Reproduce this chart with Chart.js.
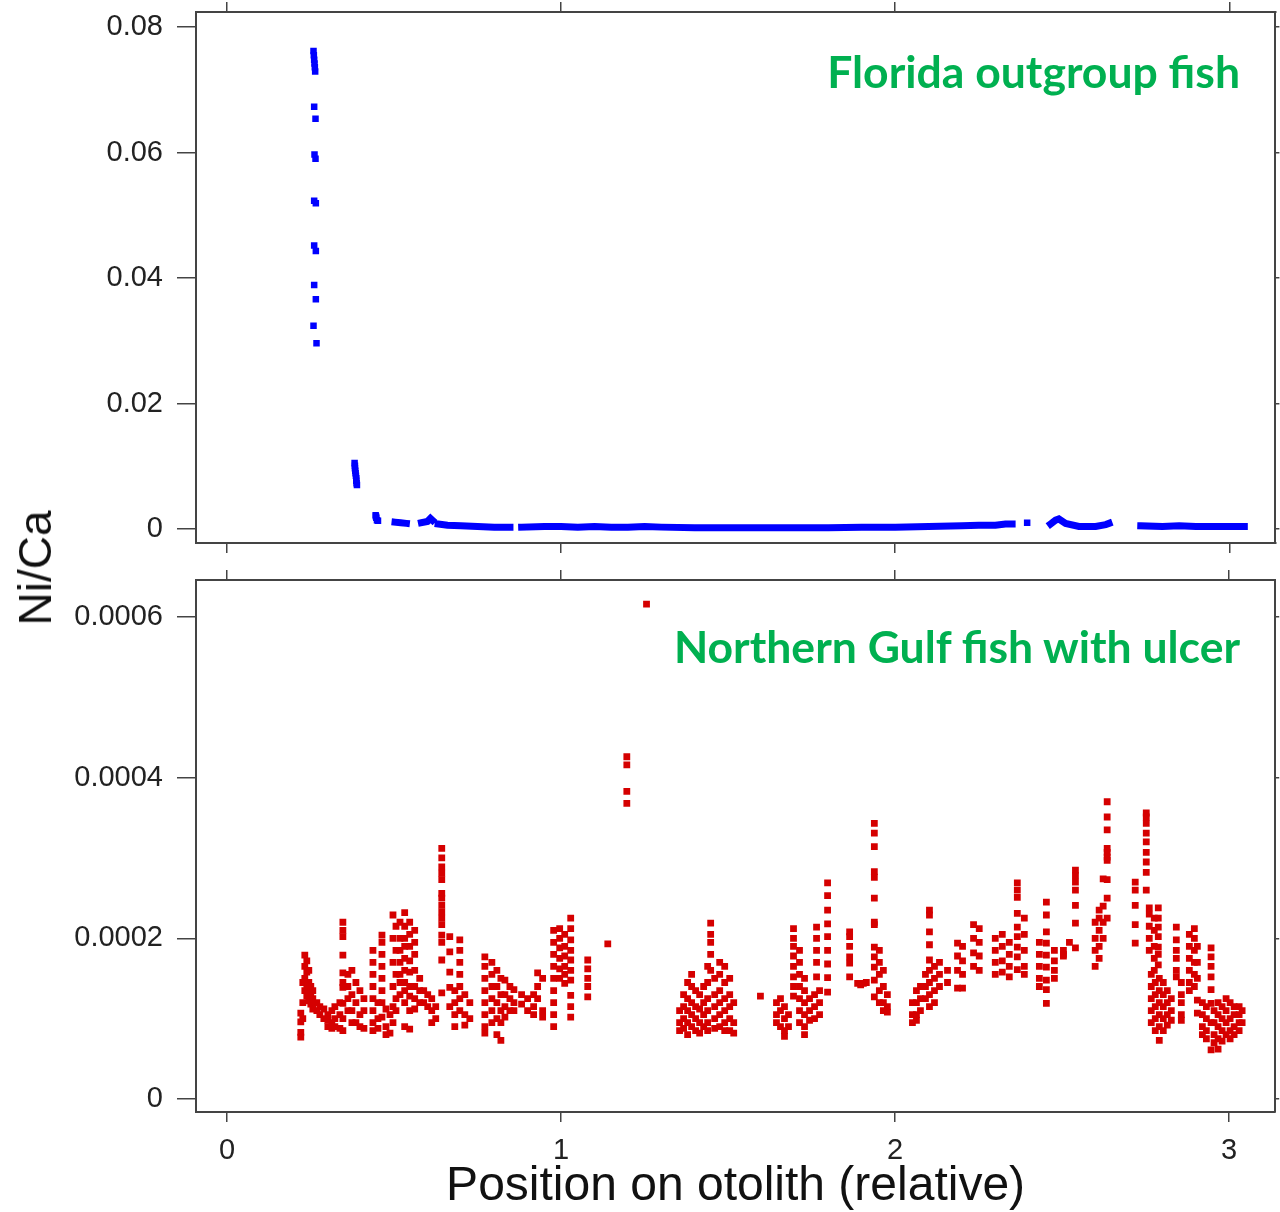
<!DOCTYPE html>
<html lang="en">
<head>
<meta charset="UTF-8">
<title>Ni/Ca along otolith</title>
<script src="https://cdn.jsdelivr.net/npm/chart.js"></script>
<style>
  body { margin: 0; background: #fff; width: 1280px; height: 1212px; position: relative; overflow: hidden; font-family: "Liberation Sans", Arial, sans-serif; }
  canvas { position: absolute; left: 0; }
  #topCanvas { top: 0; }
  #bottomCanvas { top: 560px; }
  .panel-label { position: absolute; right: 40px; color: #00b050; font-family: Lato, sans-serif; font-weight: bold; font-size: 44.5px; line-height: 1; white-space: nowrap; }
  #yTitle { position: absolute; left: 35px; top: 568px; transform: translate(-50%, -50%) rotate(-90deg); font-size: 46px; color: #111; white-space: nowrap; }
</style>
</head>
<body>
<canvas id="topCanvas" width="1280" height="560"></canvas>
<canvas id="bottomCanvas" width="1280" height="656"></canvas>
<div class="panel-label" style="top:49px">Florida outgroup fish</div>
<div class="panel-label" style="top:624px">Northern Gulf fish with ulcer</div>
<div id="yTitle">Ni/Ca</div>

<script>
// axis ticks
const xTicks = [0, 1, 2, 3];
const floridaTicks = [0, 0.02, 0.04, 0.06, 0.08];
const gulfTicks = [0, 0.0002, 0.0004, 0.0006];

// Florida fish: early high values near the core
const floridaSpike = [
    [0.259, 0.0762], [0.260, 0.0755], [0.261, 0.0748], [0.262, 0.0742], [0.263, 0.0736], [0.264, 0.0729],
    [0.261, 0.0673], [0.265, 0.0654], [0.262, 0.0597], [0.265, 0.0590], [0.261, 0.0523], [0.266, 0.0519],
    [0.261, 0.0452], [0.266, 0.0443], [0.261, 0.0389], [0.266, 0.0366], [0.259, 0.0324], [0.268, 0.0296],
    [0.382, 0.0105], [0.383, 0.0101], [0.383, 0.0097], [0.384, 0.0093], [0.385, 0.0089], [0.386, 0.0085],
    [0.387, 0.0081], [0.387, 0.0077], [0.388, 0.0073], [0.389, 0.0070],
    [0.445, 0.0022], [0.446, 0.0020], [0.447, 0.0018], [0.449, 0.0014], [0.452, 0.0013],
    [2.395, 0.0010]
];

// Florida fish: dense run of low values (null = gap in the transect)
const floridaBase = [
    [0.503, 0.0011], [0.520, 0.0010], [0.537, 0.0009], [0.55, null],
    [0.582, 0.0010], [0.600, 0.0012], [0.609, 0.0017], [0.615, 0.0014], [0.62, null],
    [0.632, 0.0008], [0.660, 0.0006], [0.700, 0.0005], [0.750, 0.0004], [0.800, 0.0003], [0.847, 0.0003], [0.86, null],
    [0.882, 0.0003], [0.950, 0.0004], [1.000, 0.0004], [1.050, 0.0003], [1.100, 0.0004], [1.150, 0.0003],
    [1.200, 0.0003], [1.250, 0.0004], [1.300, 0.0003], [1.400, 0.0002], [1.500, 0.0002], [1.600, 0.0002],
    [1.700, 0.0002], [1.800, 0.0002], [1.900, 0.0003], [2.000, 0.0003], [2.100, 0.0004], [2.200, 0.0005],
    [2.250, 0.0006], [2.300, 0.0006], [2.330, 0.0008], [2.350, 0.0008], [2.36, null],
    [2.465, 0.0008], [2.480, 0.0014], [2.490, 0.0016], [2.510, 0.0009], [2.550, 0.0004], [2.600, 0.0004],
    [2.630, 0.0007], [2.640, 0.0009], [2.70, null],
    [2.735, 0.0005], [2.800, 0.0004], [2.850, 0.0005], [2.900, 0.0004], [2.950, 0.0004], [3.000, 0.0004], [3.045, 0.0004]
];

// Northern Gulf fish: [position, Ni/Ca values at that position in units of 1e-4]
const GULF_UNIT = 1e-4;
const gulfColumns = [
    [0.221, [1.07, 0.96, 0.83, 0.77]], [0.227, [1.45, 1.2, 1.0]], [0.233, [1.79, 1.65, 1.5, 1.35]],
    [0.239, [1.72, 1.58, 1.42, 1.28]], [0.245, [1.6, 1.45, 1.32, 1.22]], [0.251, [1.4, 1.3, 1.18]],
    [0.257, [1.35, 1.25, 1.12]], [0.269, [1.2, 1.1]], [0.278, [1.15, 1.05]], [0.290, [1.12, 1.0]],
    [0.302, [1.05, 0.98, 0.9]], [0.314, [1.1, 0.95, 0.88]], [0.323, [1.15, 1.0, 0.9]], [0.338, [1.2, 1.05, 0.88]],
    [0.347, [2.2, 2.1, 2.02, 1.79, 1.57, 1.45, 1.39, 1.19, 1.0, 0.85]],
    [0.362, [1.55, 1.4, 1.25, 1.1]], [0.374, [1.6, 1.3, 1.1, 0.95]], [0.386, [1.45, 1.2, 0.95]],
    [0.398, [1.35, 1.05, 0.9]], [0.410, [1.25, 1.1, 0.88]],
    [0.437, [1.85, 1.7, 1.55, 1.4, 1.25, 1.1, 0.95, 0.85]], [0.452, [1.2, 1.0, 0.88]],
    [0.464, [2.04, 1.95, 1.8, 1.65, 1.5, 1.35, 1.2, 1.02]], [0.476, [1.12, 0.9, 0.8]], [0.488, [1.05, 0.82]],
    [0.497, [2.29, 2.0, 1.7, 1.4, 1.15, 0.95]], [0.506, [2.15, 1.85, 1.55, 1.25, 1.1]],
    [0.518, [2.2, 2.0, 1.85, 1.7, 1.55, 1.45, 1.3]],
    [0.532, [2.32, 2.15, 2.0, 1.9, 1.75, 1.6, 1.45, 1.35, 1.2, 0.9]],
    [0.547, [2.2, 2.05, 1.9, 1.72, 1.58, 1.4, 1.28, 1.1, 0.87]],
    [0.562, [2.1, 1.95, 1.8, 1.6, 1.4, 1.25, 1.12]],
    [0.577, [1.5, 1.35, 1.2]], [0.589, [1.35, 1.2]], [0.601, [1.3, 1.15]], [0.613, [1.25, 1.1, 0.95]], [0.625, [1.15, 1.0]],
    [0.643, [3.12, 3.0, 2.89, 2.81, 2.73, 2.56, 2.5, 2.41, 2.33, 2.25, 2.17, 2.04, 1.95, 1.73, 1.32]],
    [0.667, [2.02, 1.83, 1.58, 1.39, 1.15]], [0.682, [1.35, 1.2, 1.05, 0.9]],
    [0.697, [1.98, 1.85, 1.7, 1.55, 1.4, 1.25, 1.1]], [0.712, [1.3, 1.05, 0.92]], [0.727, [1.2, 1.0]],
    [0.772, [1.77, 1.65, 1.5, 1.35, 1.2, 1.05, 0.9, 0.82]], [0.793, [1.7, 1.55, 1.4, 1.25, 1.1, 0.95]],
    [0.808, [1.6, 1.4, 1.2, 1.0, 0.8]], [0.820, [1.5, 1.3, 1.1, 0.95, 0.73]], [0.832, [1.48, 1.3, 1.15, 1.02]],
    [0.847, [1.4, 1.25, 1.1]], [0.859, [1.36, 1.2, 1.1]], [0.882, [1.3, 1.18]], [0.900, [1.25, 1.1]],
    [0.918, [1.3, 1.15, 1.05]], [0.930, [1.57, 1.4, 1.25]], [0.945, [1.5, 1.1, 1.02]],
    [0.978, [2.1, 1.95, 1.8, 1.65, 1.5, 1.35, 1.2, 1.05, 0.9]], [0.996, [2.12, 2.0, 1.88, 1.75, 1.62, 1.5]],
    [1.011, [2.05, 1.9, 1.78, 1.65, 1.55, 1.44]],
    [1.029, [2.25, 2.12, 1.98, 1.85, 1.73, 1.6, 1.48, 1.29, 1.15, 1.02]],
    [1.080, [1.73, 1.62, 1.5, 1.4, 1.27]], [1.140, [1.93]], [1.197, [4.26, 4.16, 3.83, 3.68]], [1.256, [6.16]],
    [1.355, [1.1, 0.95, 0.85]], [1.367, [1.3, 1.15, 1.0, 0.88]], [1.379, [1.45, 1.25, 1.1, 0.95, 0.8]],
    [1.391, [1.55, 1.4, 1.2, 1.05, 0.9]], [1.403, [1.35, 1.15, 1.0, 0.85]], [1.415, [1.3, 1.12, 0.95, 0.82]],
    [1.427, [1.4, 1.2, 1.05, 0.9]], [1.439, [1.65, 1.45, 1.25, 1.1, 0.95, 0.85]], [1.448, [2.19, 2.05, 1.95, 1.8, 1.6]],
    [1.460, [1.5, 1.3, 1.15, 1.0, 0.88]], [1.475, [1.7, 1.55, 1.35, 1.2, 1.05, 0.9]],
    [1.490, [1.65, 1.45, 1.25, 1.1, 0.95, 0.85]], [1.505, [1.5, 1.3, 1.15, 1.0, 0.85]], [1.517, [1.2, 0.95, 0.82]],
    [1.597, [1.28]],
    [1.645, [1.2, 1.05, 0.95]], [1.657, [1.25, 1.1, 0.9]], [1.669, [1.15, 1.0, 0.85, 0.78]], [1.681, [1.05, 0.9]],
    [1.696, [2.12, 2.0, 1.9, 1.78, 1.65, 1.52, 1.4, 1.28]], [1.714, [1.85, 1.7, 1.55, 1.4, 1.25, 1.1, 0.95]],
    [1.729, [1.5, 1.35, 1.2, 1.05, 0.9, 0.8]], [1.744, [1.25, 1.1, 0.98]], [1.759, [1.3, 1.15, 1.0]],
    [1.765, [2.14, 2.0, 1.85, 1.7, 1.52]], [1.774, [1.35, 1.2, 1.05]],
    [1.798, [2.69, 2.53, 2.35, 2.18, 2.02, 1.85, 1.68, 1.51, 1.33]],
    [1.864, [2.08, 2.02, 1.9, 1.77, 1.69, 1.52]], [1.888, [1.44]], [1.897, [1.42]], [1.905, [1.44]], [1.914, [1.45]],
    [1.938, [3.43, 3.31, 3.14, 2.83, 2.76, 2.5, 2.2, 2.17, 1.89, 1.77, 1.64, 1.48, 1.27]],
    [1.953, [1.85, 1.7, 1.55, 1.35, 1.2]], [1.965, [1.6, 1.4, 1.2, 1.1]], [1.977, [1.3, 1.15, 1.08]],
    [2.052, [1.2, 1.05, 0.95]], [2.064, [1.35, 1.2, 1.05, 0.98]], [2.076, [1.4, 1.25, 1.1]], [2.091, [1.55, 1.4, 1.25]],
    [2.103, [2.35, 2.29, 2.08, 1.92, 1.73, 1.6, 1.45, 1.3, 1.15]], [2.118, [1.65, 1.5, 1.35, 1.2]],
    [2.133, [1.7, 1.55, 1.4]], [2.157, [1.6, 1.45]], [2.187, [1.94, 1.78, 1.6, 1.38]], [2.202, [1.9, 1.72, 1.55, 1.38]],
    [2.235, [2.17, 2.0, 1.82, 1.65]], [2.252, [2.12, 1.95, 1.78, 1.6]], [2.300, [2.0, 1.85, 1.7, 1.55]],
    [2.321, [2.05, 1.9, 1.72, 1.58]], [2.342, [1.95, 1.8, 1.65, 1.52]],
    [2.366, [2.69, 2.6, 2.51, 2.31, 2.14, 2.02, 1.89, 1.77, 1.61]], [2.387, [2.25, 2.05, 1.85, 1.65, 1.55]],
    [2.432, [1.95, 1.8, 1.65, 1.5, 1.4]], [2.453, [2.45, 2.29, 2.08, 1.94, 1.79, 1.64, 1.48, 1.36, 1.19]],
    [2.477, [1.85, 1.72, 1.6, 1.5]], [2.504, [1.85, 1.8, 1.78]], [2.522, [1.95]],
    [2.540, [2.85, 2.78, 2.7, 2.6, 2.41, 2.19, 1.88]],
    [2.599, [2.2, 2.0, 1.85, 1.65]], [2.611, [2.35, 2.25, 2.1, 1.9, 1.75]], [2.623, [2.74, 2.4, 2.2, 2.0]],
    [2.635, [3.7, 3.51, 3.35, 3.12, 3.07, 3.01, 2.97, 2.73, 2.5, 2.25]],
    [2.719, [2.7, 2.6, 2.41, 2.17, 1.94]], [2.752, [3.56, 3.51, 3.43, 3.31, 3.2, 3.07, 2.95, 2.82, 2.6]],
    [2.761, [2.38, 2.3, 2.15, 2.0, 1.85]], [2.767, [1.55, 1.4, 1.25, 1.1, 0.95]], [2.776, [2.25, 2.1, 1.9, 1.75, 1.6]],
    [2.779, [1.45, 1.3, 1.15, 1.0, 0.85]], [2.788, [2.38, 2.25, 2.14, 2.02, 1.89, 1.8, 1.67]],
    [2.791, [1.5, 1.35, 1.2, 1.05, 0.9, 0.73]], [2.803, [1.45, 1.3, 1.15, 1.0, 0.85]],
    [2.815, [1.35, 1.2, 1.05, 0.92]], [2.827, [1.25, 1.1, 0.98]], [2.842, [2.14, 1.98, 1.85, 1.75, 1.6, 1.52]],
    [2.857, [1.45, 1.3, 1.2, 1.05, 0.98]], [2.881, [2.05, 1.9, 1.75, 1.6, 1.45, 1.35]],
    [2.896, [2.12, 2.0, 1.85, 1.7, 1.55, 1.4]], [2.905, [1.9, 1.7, 1.5, 1.23, 1.07]],
    [2.920, [1.2, 1.05, 0.9, 0.8]], [2.932, [1.15, 1.0, 0.85, 0.75]],
    [2.946, [1.88, 1.77, 1.65, 1.52, 1.36, 1.19, 0.95, 0.61]], [2.955, [1.1, 0.95, 0.8, 0.7]],
    [2.967, [1.2, 1.05, 0.9, 0.75, 0.62]], [2.979, [1.15, 1.0, 0.85, 0.72]], [2.991, [1.25, 1.1, 0.95, 0.8]],
    [3.003, [1.2, 1.0, 0.85, 0.75]], [3.015, [1.15, 1.05, 0.9, 0.8]], [3.030, [1.15, 1.05, 0.95, 0.85]],
    [3.039, [1.1, 0.95]]
];

const toPoints = arr => arr.map(([x, y]) => ({x: x, y: y}));
const gulfPoints = gulfColumns.flatMap(([x, ys]) => ys.map(y => ({x: x, y: y * GULF_UNIT})));

const tickFont = {family: "'Liberation Sans', Arial, sans-serif", size: 29};
const frame = {display: true, color: '#444', width: 2};

// all four sides get a framed axis, sizes forced so both panels line up
function panelScales(yMin, yMax, yTicks, topH, bottomH, showX) {
    const fixTicks = list => scale => { scale.ticks = list.map(v => ({value: v})); };
    const noPad = scale => { scale.paddingTop = 0; scale.paddingBottom = 0; scale.paddingLeft = 0; scale.paddingRight = 0; };
    const xBase = {
        type: 'linear', min: -0.0927, max: 3.138,
        afterBuildTicks: fixTicks(xTicks),
        border: frame,
        grid: {drawOnChartArea: false, drawTicks: true, tickLength: 10, color: '#444', lineWidth: 1.5}
    };
    const yBase = {
        type: 'linear', min: yMin, max: yMax,
        afterBuildTicks: fixTicks(yTicks),
        border: frame
    };
    return {
        x: Object.assign({}, xBase, {
            position: 'bottom',
            ticks: {display: showX, font: tickFont, color: '#222', padding: 12, maxRotation: 0, callback: v => String(v)},
            title: {display: showX, text: 'Position on otolith (relative)', color: '#111',
                    font: {family: "'Liberation Sans', Arial, sans-serif", size: 48}, padding: {top: 0, bottom: 0}},
            afterFit: s => { noPad(s); s.height = bottomH; }
        }),
        x2: Object.assign({}, xBase, {
            axis: 'x', position: 'top',
            ticks: {display: false},
            afterFit: s => { noPad(s); s.height = topH; }
        }),
        y: Object.assign({}, yBase, {
            position: 'left',
            grid: {drawOnChartArea: false, drawTicks: true, tickLength: 19, color: '#444', lineWidth: 1.5},
            ticks: {font: tickFont, color: '#222', padding: 14, callback: v => String(v)},
            afterFit: s => { noPad(s); s.width = 196; }
        }),
        y2: Object.assign({}, yBase, {
            axis: 'y', position: 'right',
            grid: {drawOnChartArea: false, drawTicks: true, tickLength: 4, color: '#444', lineWidth: 1.5},
            ticks: {display: false},
            afterFit: s => { noPad(s); s.width = 4; }
        })
    };
}

const common = {
    responsive: false,
    animation: false,
    events: [],
    layout: {padding: 0},
    plugins: {legend: {display: false}, tooltip: {enabled: false}}
};

new Chart(document.getElementById('topCanvas').getContext('2d'), {
    type: 'scatter',
    data: {
        datasets: [{
            label: 'Florida base',
            data: toPoints(floridaBase),
            showLine: true,
            spanGaps: false,
            borderColor: '#0000ff',
            borderWidth: 7,
            borderCapStyle: 'square',
            pointRadius: 0
        }, {
            label: 'Florida',
            data: toPoints(floridaSpike),
            pointStyle: 'rect',
            pointRadius: 4.6,
            borderWidth: 0,
            backgroundColor: '#0000ff'
        }]
    },
    options: Object.assign({}, common, {
        scales: panelScales(-0.00223, 0.0824, floridaTicks, 12, 17, false)
    })
});

new Chart(document.getElementById('bottomCanvas').getContext('2d'), {
    type: 'scatter',
    data: {
        datasets: [{
            label: 'Northern Gulf',
            data: gulfPoints,
            pointStyle: 'rect',
            pointRadius: 4.8,
            borderWidth: 0,
            backgroundColor: '#d50000'
        }]
    },
    options: Object.assign({}, common, {
        scales: panelScales(-0.0000162, 0.000646, gulfTicks, 20, 104, true)
    })
});
</script>
</body>
</html>
